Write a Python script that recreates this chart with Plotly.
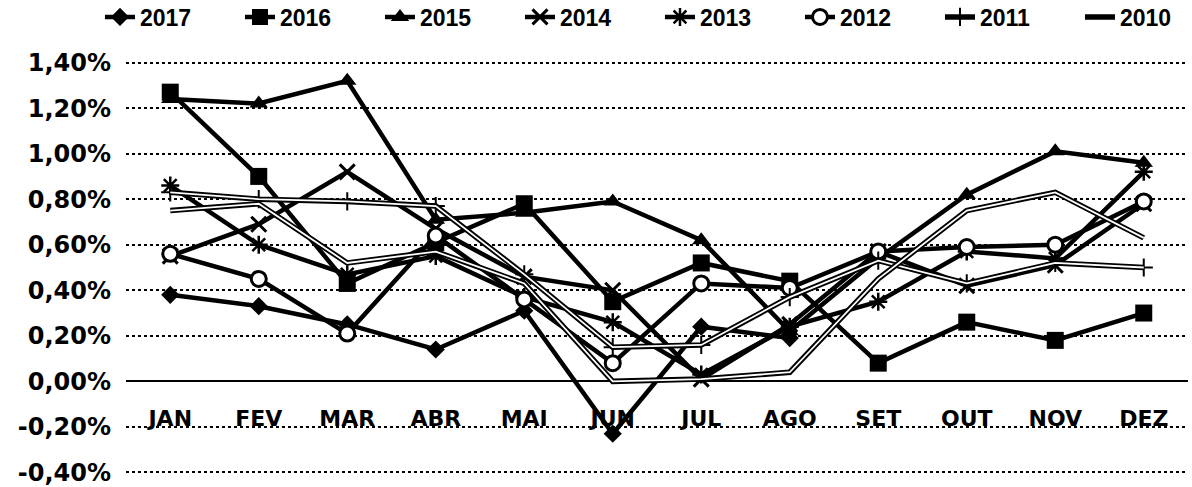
import plotly.graph_objects as go

months = ["JAN", "FEV", "MAR", "ABR", "MAI", "JUN", "JUL", "AGO", "SET", "OUT", "NOV", "DEZ"]

v2017 = [0.38, 0.33, 0.25, 0.14, 0.31, -0.23, 0.24, 0.19, None, None, None, None]
v2016 = [1.27, 0.90, 0.43, 0.61, 0.78, 0.35, 0.52, 0.44, 0.08, 0.26, 0.18, 0.30]
v2015 = [1.24, 1.22, 1.32, 0.71, 0.74, 0.79, 0.62, 0.22, 0.54, 0.82, 1.01, 0.96]
v2014 = [0.55, 0.69, 0.92, 0.67, 0.46, 0.40, 0.01, 0.25, 0.57, 0.42, 0.51, 0.78]
v2013 = [0.86, 0.60, 0.47, 0.55, 0.37, 0.26, 0.03, 0.24, 0.35, 0.57, 0.54, 0.92]
v2012 = [0.56, 0.45, 0.21, 0.64, 0.36, 0.08, 0.43, 0.41, 0.57, 0.59, 0.60, 0.79]
v2011 = [0.83, 0.80, 0.79, 0.77, 0.47, 0.15, 0.16, 0.37, 0.53, 0.43, 0.52, 0.50]
v2010 = [0.75, 0.78, 0.52, 0.57, 0.43, 0.00, 0.01, 0.04, 0.45, 0.75, 0.83, 0.63]

y_ticks = [-0.4, -0.2, 0.0, 0.2, 0.4, 0.6, 0.8, 1.0, 1.2, 1.4]
y_tick_labels = ["-0,40%", "-0,20%", "0,00%", "0,20%", "0,40%", "0,60%",
                 "0,80%", "1,00%", "1,20%", "1,40%"]

series = [
    ("2017", v2017, dict(symbol="diamond", size=14, color="black"), False),
    ("2016", v2016, dict(symbol="square", size=17, color="black"), False),
    ("2015", v2015, dict(symbol="triangle-up", size=16, color="black"), False),
    ("2014", v2014, dict(symbol="x-thin-open", size=15, color="black", line=dict(width=3, color="black")), False),
    ("2013", v2013, dict(symbol="asterisk-open", size=15, color="black", line=dict(width=2.5, color="black")), False),
    ("2012", v2012, dict(symbol="circle", size=15, color="white", line=dict(width=3, color="black")), False),
    ("2011", v2011, dict(symbol="cross-thin-open", size=13, color="black", line=dict(width=2, color="black")), True),
    ("2010", v2010, None, True),
]

fig = go.Figure()
for name, vals, marker, hollow in series:
    lw = 5.5 if hollow else 4.5
    if marker is None:
        fig.add_trace(go.Scatter(x=months, y=vals, name=name, mode="lines",
                                 line=dict(color="black", width=lw)))
    else:
        fig.add_trace(go.Scatter(x=months, y=vals, name=name, mode="lines+markers",
                                 line=dict(color="black", width=lw),
                                 marker=marker))
    if hollow:
        fig.add_trace(go.Scatter(x=months, y=vals, name=name, mode="lines",
                                 line=dict(color="white", width=1.8),
                                 showlegend=False, hoverinfo="skip"))

fig.update_layout(
    width=1192, height=487,
    margin=dict(l=126, r=4, t=58, b=10, autoexpand=False),
    paper_bgcolor="white", plot_bgcolor="white",
    showlegend=True,
    legend=dict(orientation="h", x=-0.0245, xanchor="left", y=1.098, yanchor="middle",
                entrywidth=95, entrywidthmode="pixels",
                font=dict(family="Liberation Sans", size=23, color="black", weight="bold"),
                bgcolor="rgba(0,0,0,0)"),
    xaxis=dict(type="category", categoryorder="array", categoryarray=months,
               range=[-0.5, 11.5], showgrid=False, zeroline=False, showline=False,
               anchor="free", position=0.177, ticks="", ticklabeloverflow="allow",
               tickfont=dict(family="DejaVu Sans", size=22, color="black", weight="bold")),
    yaxis=dict(range=[-0.42, 1.42], tickvals=y_ticks, ticktext=y_tick_labels,
               showgrid=True, gridcolor="black", griddash="dot", gridwidth=1.5,
               zeroline=True, zerolinecolor="black", zerolinewidth=2,
               showline=False, ticks="", ticklabelstandoff=14, ticklabeloverflow="allow",
               tickfont=dict(family="DejaVu Sans", size=24, color="black", weight="bold")),
)

fig.write_html("out.html",
               config={"displayModeBar": False},
               post_script="document.body.style.margin='0px';document.body.style.overflow='hidden';")
